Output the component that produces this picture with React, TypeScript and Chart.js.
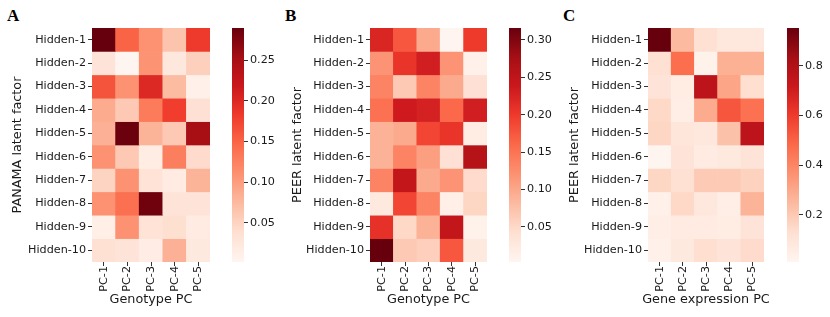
import React, { useEffect, useRef } from 'react';
import { Chart, registerables } from 'chart.js';

Chart.register(...registerables);

const rowLabels = ['Hidden-1', 'Hidden-2', 'Hidden-3', 'Hidden-4', 'Hidden-5', 'Hidden-6', 'Hidden-7', 'Hidden-8', 'Hidden-9', 'Hidden-10'];
const pcLabels = ['PC-1', 'PC-2', 'PC-3', 'PC-4', 'PC-5'];

// Panel A: PANAMA latent factor vs Genotype PC (rows = Hidden-1..10, cols = PC-1..5)
const panamaGenotype: number[][] = [
  [0.29, 0.15, 0.11, 0.065, 0.183],
  [0.03, 0.0015, 0.108, 0.025, 0.053],
  [0.163, 0.11, 0.2, 0.073, 0.01],
  [0.088, 0.06, 0.13, 0.18, 0.035],
  [0.082, 0.288, 0.08, 0.06, 0.252],
  [0.11, 0.06, 0.016, 0.128, 0.042],
  [0.05, 0.11, 0.033, 0.018, 0.08],
  [0.11, 0.14, 0.285, 0.03, 0.03],
  [0.012, 0.11, 0.033, 0.038, 0.018],
  [0.036, 0.03, 0.015, 0.082, 0.022],
];

// Panel B: PEER latent factor vs Genotype PC
const peerGenotype: number[][] = [
  [0.222, 0.175, 0.097, 0.003, 0.2],
  [0.119, 0.206, 0.231, 0.119, 0.012],
  [0.134, 0.066, 0.134, 0.097, 0.04],
  [0.153, 0.235, 0.228, 0.16, 0.231],
  [0.09, 0.097, 0.19, 0.206, 0.018],
  [0.09, 0.134, 0.109, 0.04, 0.26],
  [0.134, 0.247, 0.097, 0.119, 0.047],
  [0.025, 0.19, 0.134, 0.015, 0.053],
  [0.21, 0.05, 0.09, 0.247, 0.009],
  [0.316, 0.066, 0.06, 0.175, 0.025],
];

// Panel C: PEER latent factor vs Gene expression PC
const peerExpression: number[][] = [
  [0.951, 0.246, 0.124, 0.086, 0.086],
  [0.124, 0.47, 0.03, 0.275, 0.275],
  [0.105, 0.058, 0.763, 0.31, 0.133],
  [0.152, 0.049, 0.293, 0.53, 0.46],
  [0.161, 0.095, 0.086, 0.227, 0.763],
  [0.011, 0.105, 0.067, 0.077, 0.105],
  [0.161, 0.124, 0.199, 0.199, 0.171],
  [0.04, 0.152, 0.086, 0.049, 0.265],
  [0.049, 0.067, 0.067, 0.058, 0.105],
  [0.04, 0.077, 0.133, 0.105, 0.143],
];

const cbTicksA = [0.05, 0.1, 0.15, 0.2, 0.25];
const cbTicksB = [0.05, 0.1, 0.15, 0.2, 0.25, 0.3];
const cbTicksC = [0.2, 0.4, 0.6, 0.8];

const REDS = ['#fff5f0', '#fee0d2', '#fcbba1', '#fc9272', '#fb6a4a', '#ef3b2c', '#cb181d', '#a50f15', '#67000d'];

const FONT = 'DejaVu Sans';
const TEXT = '#1a1a1a';
const TICK_SIZE = 11.2;
const TITLE_SIZE = 12.8;
const CANVAS_H = 317;
const PLOT_TOP = 28;
const PLOT_BOTTOM = 262;
const X_TITLE_Y = 300;
const EXTRA_RIGHT = 14;

function hexToRgb(h: string): number[] {
  return [parseInt(h.slice(1, 3), 16), parseInt(h.slice(3, 5), 16), parseInt(h.slice(5, 7), 16)];
}
const REDS_RGB = REDS.map(hexToRgb);

function reds(t: number): string {
  const tt = Math.max(0, Math.min(1, t)) * (REDS.length - 1);
  const i = Math.min(REDS.length - 2, Math.floor(tt));
  const f = tt - i;
  const a = REDS_RGB[i];
  const b = REDS_RGB[i + 1];
  const c = a.map((v, k) => Math.round(v + (b[k] - v) * f));
  return `rgb(${c[0]},${c[1]},${c[2]})`;
}

function range(values: number[][]) {
  const flat = values.flat();
  return { vmin: Math.min(...flat), vmax: Math.max(...flat) };
}

type HeatProps = {
  values: number[][];
  canvasLeft: number;
  plotLeft: number;
  plotRight: number;
  yTitle: string;
  xTitle: string;
};

function Heatmap({ values, canvasLeft, plotLeft, plotRight, yTitle, xTitle }: HeatProps) {
  const ref = useRef<HTMLCanvasElement>(null);
  const width = plotRight - canvasLeft + EXTRA_RIGHT;
  useEffect(() => {
    if (!ref.current) return;
    const { vmin, vmax } = range(values);
    const xTitlePlugin = {
      id: 'xTitleFree',
      afterDraw(chart: any) {
        const x = chart.scales.x;
        const c = chart.ctx;
        c.save();
        c.fillStyle = TEXT;
        c.font = `${TITLE_SIZE}px "${FONT}"`;
        c.textAlign = 'center';
        c.textBaseline = 'middle';
        c.fillText(xTitle, (x.left + x.right) / 2, X_TITLE_Y);
        c.restore();
      },
    };
    const chart = new Chart(ref.current, {
      type: 'bar',
      data: {
        labels: pcLabels,
        datasets: rowLabels.map((r, i) => ({
          label: r,
          data: pcLabels.map(() => 1),
          backgroundColor: values[i].map((v) => reds((v - vmin) / (vmax - vmin))),
          borderWidth: 0,
          barPercentage: 1,
          categoryPercentage: 1,
        })),
      },
      options: {
        animation: false,
        responsive: false,
        events: [],
        layout: { padding: { top: PLOT_TOP, right: EXTRA_RIGHT, bottom: 0, left: 0 } },
        plugins: { legend: { display: false }, tooltip: { enabled: false } },
        scales: {
          x: {
            type: 'category',
            stacked: true,
            offset: true,
            grid: { offset: false, drawOnChartArea: false, drawTicks: true, tickLength: 4, tickColor: '#333', lineWidth: 1 },
            border: { display: false },
            ticks: { minRotation: 90, maxRotation: 90, autoSkip: false, padding: 0, color: TEXT, font: { family: FONT, size: TICK_SIZE } },
            title: { display: false },
            afterFit: (s: any) => { s.height = CANVAS_H - PLOT_BOTTOM; },
          },
          y: {
            type: 'linear',
            stacked: true,
            min: 0,
            max: rowLabels.length,
            reverse: true,
            grid: { drawOnChartArea: false, drawTicks: true, tickLength: 4, tickColor: '#333', lineWidth: 1 },
            border: { display: false },
            afterBuildTicks: (s: any) => { s.ticks = rowLabels.map((_, i) => ({ value: i + 0.5 })); },
            ticks: { autoSkip: false, padding: 2, color: TEXT, font: { family: FONT, size: TICK_SIZE }, callback: (_v: any, i: number) => rowLabels[i] },
            title: { display: true, text: yTitle, color: TEXT, font: { family: FONT, size: TITLE_SIZE }, padding: { top: 2, bottom: 0 } },
            afterFit: (s: any) => { s.width = plotLeft - canvasLeft; },
          },
        },
      } as any,
      plugins: [xTitlePlugin],
    });
    return () => chart.destroy();
  }, []);
  return (
    <canvas
      ref={ref}
      width={width}
      height={CANVAS_H}
      style={{ position: 'absolute', left: canvasLeft, top: 0, width, height: CANVAS_H, display: 'block' }}
    />
  );
}

type CbProps = { values: number[][]; left: number; barWidth: number; width: number; ticks: number[]; decimals: number };

function Colorbar({ values, left, barWidth, width, ticks, decimals }: CbProps) {
  const ref = useRef<HTMLCanvasElement>(null);
  useEffect(() => {
    if (!ref.current) return;
    const { vmin, vmax } = range(values);
    const chart = new Chart(ref.current, {
      type: 'bar',
      data: {
        labels: [''],
        datasets: [{
          data: [[vmin, vmax]],
          backgroundColor: (ctx: any) => {
            const c = ctx.chart;
            const a = c.chartArea;
            if (!a) return REDS[4];
            const g = c.ctx.createLinearGradient(0, a.bottom, 0, a.top);
            REDS.forEach((col, i) => g.addColorStop(i / (REDS.length - 1), col));
            return g;
          },
          borderWidth: 0,
          barPercentage: 1,
          categoryPercentage: 1,
        }],
      },
      options: {
        animation: false,
        responsive: false,
        events: [],
        layout: { padding: { top: PLOT_TOP, right: 0, bottom: CANVAS_H - PLOT_BOTTOM, left: 0 } },
        plugins: { legend: { display: false }, tooltip: { enabled: false } },
        scales: {
          x: { display: false },
          y: {
            position: 'right',
            min: vmin,
            max: vmax,
            grid: { drawOnChartArea: false, drawTicks: true, tickLength: 4, tickColor: '#333', lineWidth: 1 },
            border: { display: false },
            afterBuildTicks: (s: any) => { s.ticks = ticks.map((v) => ({ value: v })); },
            ticks: { autoSkip: false, padding: 2, color: TEXT, font: { family: FONT, size: TICK_SIZE }, callback: (v: any) => Number(v).toFixed(decimals) },
            afterFit: (s: any) => { s.width = width - barWidth; },
          },
        },
      } as any,
    });
    return () => chart.destroy();
  }, []);
  return (
    <canvas
      ref={ref}
      width={width}
      height={CANVAS_H}
      style={{ position: 'absolute', left, top: 0, width, height: CANVAS_H, display: 'block' }}
    />
  );
}

const panelLabelStyle: React.CSSProperties = {
  position: 'absolute',
  top: 7,
  fontFamily: '"Liberation Serif", "Times New Roman", serif',
  fontWeight: 'bold',
  fontSize: 17,
  lineHeight: '17px',
  color: '#000',
};

export default function App() {
  return (
    <div style={{ position: 'absolute', left: 0, top: 0, width: 830, height: 317, background: '#fff', overflow: 'hidden' }}>
      <div style={{ ...panelLabelStyle, left: 7 }}>A</div>
      <div style={{ ...panelLabelStyle, left: 285 }}>B</div>
      <div style={{ ...panelLabelStyle, left: 563 }}>C</div>

      <Heatmap values={panamaGenotype} canvasLeft={8} plotLeft={92} plotRight={210} yTitle="PANAMA latent factor" xTitle="Genotype PC" />
      <Colorbar values={panamaGenotype} left={232} barWidth={12} width={50} ticks={cbTicksA} decimals={2} />

      <Heatmap values={peerGenotype} canvasLeft={288} plotLeft={370} plotRight={487} yTitle="PEER latent factor" xTitle="Genotype PC" />
      <Colorbar values={peerGenotype} left={509} barWidth={12} width={50} ticks={cbTicksB} decimals={2} />

      <Heatmap values={peerExpression} canvasLeft={565} plotLeft={648} plotRight={764} yTitle="PEER latent factor" xTitle="Gene expression PC" />
      <Colorbar values={peerExpression} left={787} barWidth={12} width={43} ticks={cbTicksC} decimals={1} />
    </div>
  );
}
